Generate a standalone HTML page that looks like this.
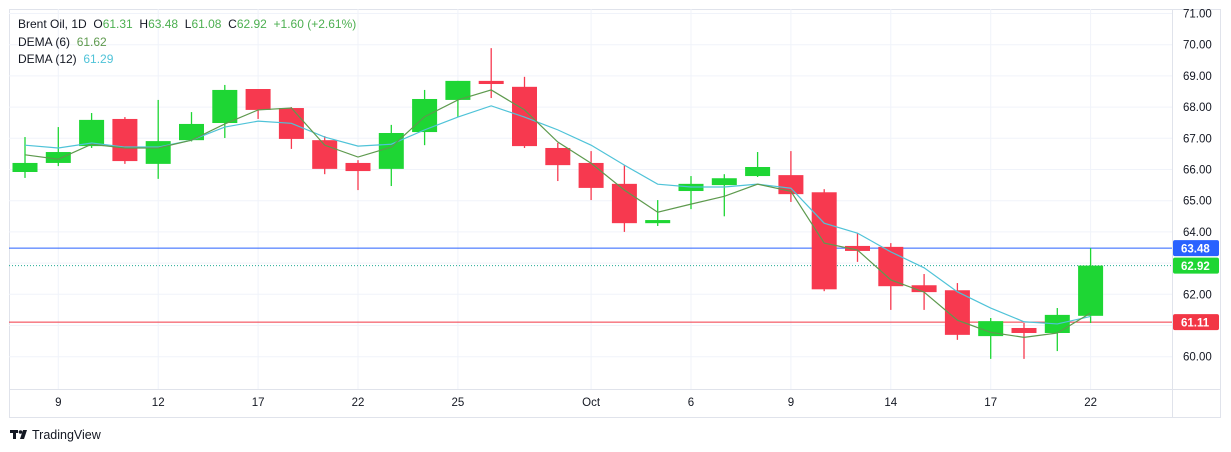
<!DOCTYPE html>
<html><head><meta charset="utf-8"><style>
body{margin:0;background:#fff;width:1231px;height:452px;overflow:hidden;font-family:"Liberation Sans",sans-serif}
svg{display:block}
</style></head><body>
<svg id="chart" width="1231" height="452" xmlns="http://www.w3.org/2000/svg" font-family="Liberation Sans, sans-serif"></svg>
<script>
const dates=['8','9','10','11','12','15','16','17','18','19','22','23','24','25','26','29','30','Oct','2','3','6','7','8','9','10','13','14','15','16','17','20','21','22'];
const opens=[65.92,66.21,66.75,67.62,66.18,66.94,67.49,68.58,67.97,66.94,66.21,66.02,67.20,68.23,68.84,68.65,66.69,66.21,65.54,64.28,65.31,65.50,65.79,65.82,65.27,63.55,63.52,62.29,62.13,60.66,60.92,60.76,61.31];
const highs=[67.04,67.36,67.81,67.68,68.23,67.84,68.71,68.58,68.00,67.07,66.30,67.43,68.55,68.84,69.89,68.97,66.85,66.59,66.14,65.02,65.79,65.85,66.56,66.59,65.37,63.96,63.64,62.65,62.36,61.24,61.08,61.56,63.48];
const lows=[65.73,66.11,66.69,66.18,65.70,66.90,67.01,67.62,66.66,65.85,65.34,65.47,66.78,67.68,68.29,66.69,65.63,65.02,64.00,64.19,64.73,64.50,65.76,64.96,62.10,63.04,61.50,61.50,60.54,59.93,59.93,60.18,61.08];
const closes=[66.21,66.56,67.59,66.27,66.91,67.46,68.55,67.91,66.98,66.02,65.95,67.17,68.26,68.84,68.74,66.75,66.14,65.41,64.28,64.38,65.54,65.72,66.08,65.21,62.16,63.39,62.26,62.07,60.70,61.14,60.76,61.34,62.92];
const dema6=[66.47,66.33,66.81,66.69,66.69,66.94,67.46,67.91,67.97,66.78,66.40,66.72,67.69,68.23,68.55,67.91,66.88,66.20,65.34,64.63,64.89,65.14,65.53,65.30,63.64,63.42,62.46,62.07,61.17,60.78,60.62,60.76,61.40];
const dema12=[66.78,66.69,66.85,66.72,66.72,66.94,67.36,67.55,67.48,67.04,66.75,66.81,67.27,67.68,68.04,67.68,67.27,66.78,66.14,65.53,65.44,65.44,65.53,65.40,64.28,63.96,63.36,62.85,62.08,61.56,61.12,61.05,61.29];
const priceTicks=[60,61,62,63,64,65,66,67,68,69,70,71];
const timeTicks=[['9',1],['12',4],['17',7],['22',10],['25',13],['Oct',17],['6',20],['9',23],['14',26],['17',29],['22',32]];
const highLine=63.48, lastClose=62.92, openLine=61.11;

const NS='http://www.w3.org/2000/svg';
const svg=document.getElementById('chart');
const L=9,T=9,R=1172,B=389,AR=1220,AB=417;
const y=p=>356.7-(p-60)*31.2;
const x=i=>25+i*33.3;
function mk(tag,attrs,parent){const e=document.createElementNS(NS,tag);for(const k in attrs)e.setAttribute(k,attrs[k]);(parent||svg).appendChild(e);return e;}
const clip=mk('clipPath',{id:'pc'});mk('rect',{x:L,y:T,width:R-L,height:B-T},clip);
// frame
const fr=mk('rect',{x:L+0.5,y:T+0.5,width:AR-L,height:AB-T,fill:'none',stroke:'#e0e3eb'});

mk('line',{x1:L,y1:B+0.5,x2:AR,y2:B+0.5,stroke:'#e0e3eb'});
mk('line',{x1:R+0.5,y1:T,x2:R+0.5,y2:AB,stroke:'#e0e3eb'});
const plot=mk('g',{'clip-path':'url(#pc)'});

priceTicks.forEach(p=>{
  mk('line',{x1:L,x2:R,y1:y(p),y2:y(p),stroke:'#f0f3fa'},plot);
  const t=mk('text',{x:1183,y:y(p)+4,'font-size':11.5,fill:'#131722'});t.textContent=p.toFixed(2);
  
});
timeTicks.forEach(([lab,i])=>{
  mk('line',{x1:x(i),x2:x(i),y1:T,y2:B,stroke:'#f0f3fa'},plot);
  const t=mk('text',{x:x(i),y:406,'font-size':11.5,fill:'#131722','text-anchor':'middle'});t.textContent=lab;
  
});
// horizontal lines
const hl=mk('line',{x1:L,x2:R,y1:y(highLine),y2:y(highLine),stroke:'#2962ff'},plot);

const cl=mk('line',{x1:L,x2:R,y1:y(lastClose),y2:y(lastClose),stroke:'#22ab94','stroke-dasharray':'1 2'},plot);

const ol=mk('line',{x1:L,x2:R,y1:y(openLine),y2:y(openLine),stroke:'#f23645'},plot);

// candles
opens.forEach((o,i)=>{
  const c=closes[i],up=c>=o,col=up?'#1ed634':'#f7394f';
  const g=mk('g',{},plot);
  
  
  mk('line',{x1:x(i),x2:x(i),y1:y(highs[i]),y2:y(lows[i]),stroke:col,'stroke-width':1.3},g);
  const top=y(Math.max(o,c)),h=Math.max(2,Math.abs(y(o)-y(c)));
  mk('rect',{x:x(i)-12.5,y:top,width:25,height:h,fill:col},g);
});
function line(arr,col,name){
  const pl=mk('polyline',{points:arr.map((v,i)=>x(i)+','+y(v)).join(' '),fill:'none',stroke:col,'stroke-width':1.2},plot);
  
}
line(dema12,'#4fc3d8','dema-12-line');
line(dema6,'#5e9a4e','dema-6-line');
// price labels
function tag(p,col,name){
  const g=mk('g',{});
  
  mk('rect',{x:1173,y:y(p)-8,width:46,height:16,rx:2,fill:col},g);
  const t=mk('text',{x:1181,y:y(p)+4.5,'font-size':11.5,'font-weight':'bold',fill:'#fff'},g);t.textContent=p.toFixed(2);
}
tag(highLine,'#2962ff','high-price-tag');
tag(lastClose,'#1ed634','close-price-tag');
tag(openLine,'#f23645','open-price-tag');
// legend
const lg=mk('text',{x:18,y:28,'font-size':12,fill:'#131722'});

lg.innerHTML='Brent Oil, 1D  O<tspan fill="#4caf50">61.31</tspan>  H<tspan fill="#4caf50">63.48</tspan>  L<tspan fill="#4caf50">61.08</tspan>  C<tspan fill="#4caf50">62.92</tspan>  <tspan fill="#4caf50">+1.60 (+2.61%)</tspan>';
lg.setAttribute('xml:space','preserve');lg.style.whiteSpace='pre';
const l2=mk('text',{x:18,y:46,'font-size':12,fill:'#131722'});l2.innerHTML='DEMA (6)  <tspan fill="#5e9a4e">61.62</tspan>';l2.style.whiteSpace='pre';

const l3=mk('text',{x:18,y:63,'font-size':12,fill:'#131722'});l3.innerHTML='DEMA (12)  <tspan fill="#4fc3d8">61.29</tspan>';l3.style.whiteSpace='pre';

// logo
const lo=mk('g',{});

mk('rect',{x:10,y:430,width:8,height:3,fill:'#131722'},lo);
mk('rect',{x:13,y:430,width:3,height:9,fill:'#131722'},lo);
mk('circle',{cx:20.5,cy:432,r:1.8,fill:'#131722'},lo);
mk('polygon',{points:'23,430 27,430 24,439 20,439',fill:'#131722'},lo);
const lt=mk('text',{x:32,y:439,'font-size':12.5,fill:'#131722'},lo);lt.textContent='TradingView';
</script>
</body></html>
